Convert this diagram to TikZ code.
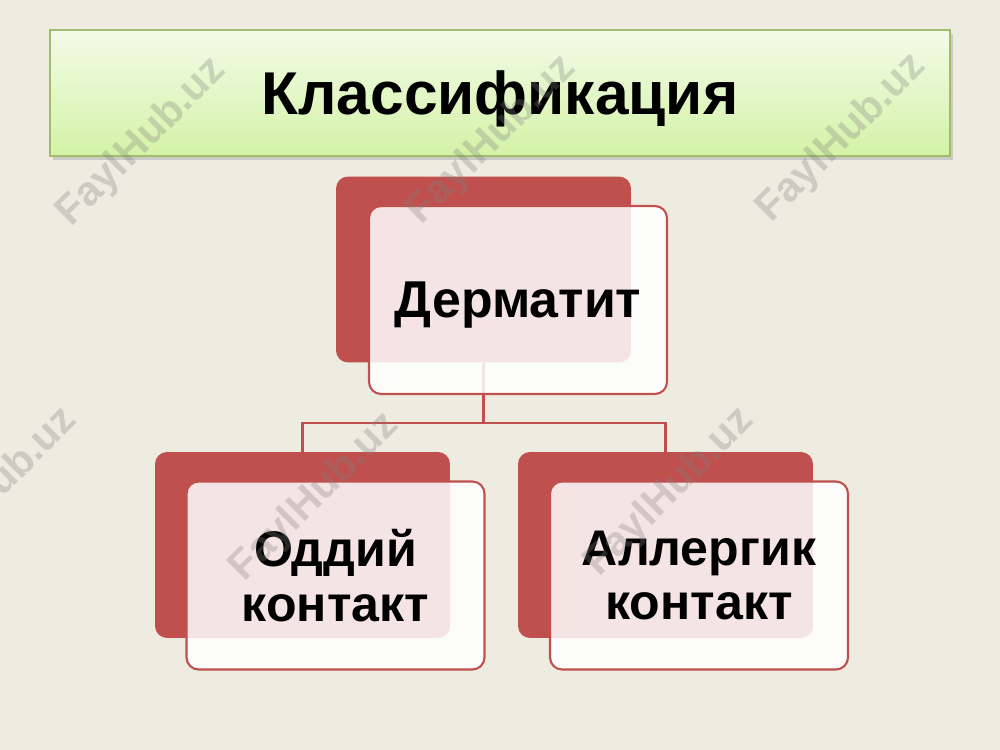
\documentclass[tikz,border=0pt]{standalone}
\usepackage{fontspec}
\setmainfont{Liberation Sans}
\definecolor{bg}{HTML}{EEECE1}
\definecolor{rd}{HTML}{C0504D}
\definecolor{gtop}{HTML}{F3FBE8}
\definecolor{gbot}{HTML}{D3F3A6}
\definecolor{gline}{HTML}{A2BC6E}
\begin{document}
\begin{tikzpicture}[x=0.02cm,y=-0.02cm,
  back/.style={fill=rd,rounded corners=0.24cm,minimum width=5.9cm,minimum height=3.72cm,inner sep=0pt},
  front/.style={draw=rd,line width=1.2pt,fill=white,fill opacity=0.85,text opacity=1,rounded corners=0.24cm,
    minimum width=5.96cm,minimum height=3.76cm,inner sep=0pt,text depth=0pt,align=center,
    font=\bfseries\fontsize{28.5}{31}\selectfont},
  wm/.style={rotate=45,text=gray,text opacity=0.3,font=\bfseries\fontsize{23.5}{24}\selectfont}]
\fill[bg] (0,0) rectangle (1000,750);
\useasboundingbox (0,0) rectangle (1000,750);
% title
\fill[black!40,opacity=0.4] (53,34) rectangle (953,160);
\node[draw=gline,line width=1pt,top color=gtop,bottom color=gbot,minimum width=18cm,minimum height=2.52cm,
  text depth=0pt,font=\bfseries\fontsize{34.4}{36}\selectfont] (t) at (500,93) {Классификация};
% boxes
\node[back] (d0) at (483.5,269.5) {};
\node[back] (o0) at (302.5,545) {};
\node[back] (a0) at (665.5,545) {};
\draw[rd,line width=1.4pt] (d0.south) -- ++(0,60) coordinate (j) -| (o0.north);
\draw[rd,line width=1.4pt] (j) -| (a0.north);
\node[front,font=\bfseries\fontsize{29.5}{31}\selectfont] (d) at (518,300) {Дерматит};
\node[front] (o) at (335.5,575.5) {Оддий\\контакт};
\node[front] (a) at (699,575.5) {Аллергик\\контакт};
% watermark
\foreach \p [count=\i] in {(142,142),(492,140),(842,138),(-7,492),(315,497),(670,492)}
  \node[wm] (w\i) at \p {FaylHub.uz};
\end{tikzpicture}
\end{document}
